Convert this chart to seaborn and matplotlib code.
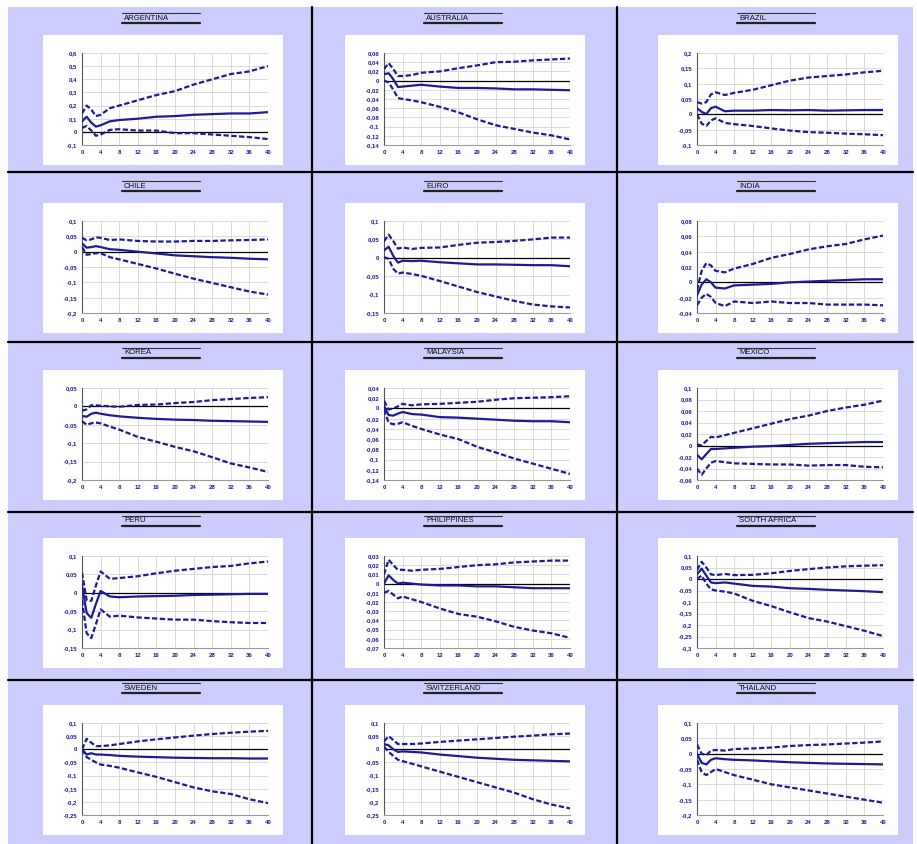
import numpy as np
import pandas as pd
import matplotlib
matplotlib.use('Agg')
import matplotlib.pyplot as plt
from matplotlib.patches import Rectangle
from matplotlib.lines import Line2D
from matplotlib.ticker import FuncFormatter, MultipleLocator
import seaborn as sns

sns.set_style('white')
plt.rcParams['font.family'] = ['Liberation Sans', 'DejaVu Sans']

steps = [0, 1, 2, 3, 4, 6, 8, 12, 16, 20, 24, 28, 32, 36, 40]

countries = ['ARGENTINA', 'AUSTRALIA', 'BRAZIL', 'CHILE', 'EURO', 'INDIA',
             'KOREA', 'MALAYSIA', 'MEXICO', 'PERU', 'PHILIPPINES', 'SOUTH AFRICA',
             'SWEDEN', 'SWITZERLAND', 'THAILAND']

# y axis range and tick step per panel
y_min = [-0.1, -0.14, -0.1, -0.2, -0.15, -0.04, -0.2, -0.14, -0.06, -0.15, -0.07, -0.3, -0.25, -0.25, -0.2]
y_max = [0.6, 0.06, 0.2, 0.1, 0.1, 0.08, 0.05, 0.04, 0.1, 0.1, 0.03, 0.1, 0.1, 0.1, 0.1]
y_step = [0.1, 0.02, 0.05, 0.05, 0.05, 0.02, 0.05, 0.02, 0.02, 0.05, 0.01, 0.05, 0.05, 0.05, 0.05]

argentina_mid = [0.08, 0.115, 0.07, 0.04, 0.05, 0.08, 0.09, 0.1, 0.115, 0.12, 0.13, 0.135, 0.14, 0.14, 0.15]
argentina_lo = [0.03, 0.045, 0.01, -0.03, -0.02, 0.015, 0.02, 0.01, 0.01, -0.01, -0.01, -0.02, -0.03, -0.04, -0.055]
argentina_hi = [0.14, 0.2, 0.17, 0.12, 0.13, 0.18, 0.2, 0.24, 0.28, 0.31, 0.36, 0.4, 0.44, 0.46, 0.5]

australia_mid = [0.014, 0.016, 0.003, -0.014, -0.013, -0.011, -0.009, -0.013, -0.016, -0.016, -0.017, -0.019, -0.019, -0.02, -0.021]
australia_lo = [0.0, -0.004, -0.02, -0.038, -0.04, -0.043, -0.047, -0.057, -0.069, -0.084, -0.097, -0.105, -0.113, -0.119, -0.128]
australia_hi = [0.025, 0.038, 0.025, 0.01, 0.01, 0.012, 0.017, 0.02, 0.027, 0.033, 0.04, 0.041, 0.044, 0.046, 0.048]

brazil_mid = [0.02, 0.008, 0.001, 0.02, 0.025, 0.01, 0.012, 0.012, 0.014, 0.013, 0.014, 0.012, 0.013, 0.014, 0.014]
brazil_lo = [0.0, -0.03, -0.038, -0.02, -0.013, -0.028, -0.032, -0.038, -0.046, -0.053, -0.058, -0.06, -0.063, -0.065, -0.068]
brazil_hi = [0.04, 0.035, 0.04, 0.065, 0.072, 0.063, 0.07, 0.08, 0.095, 0.11, 0.12, 0.125, 0.13, 0.137, 0.142]

chile_mid = [0.027, 0.013, 0.015, 0.018, 0.015, 0.008, 0.006, 0.0, -0.006, -0.012, -0.015, -0.018, -0.02, -0.023, -0.025]
chile_lo = [0.015, -0.01, -0.008, -0.005, -0.005, -0.018, -0.025, -0.04, -0.055, -0.072, -0.088, -0.102, -0.116, -0.13, -0.14]
chile_hi = [0.045, 0.037, 0.04, 0.047, 0.045, 0.038, 0.04, 0.035, 0.033, 0.033, 0.035, 0.035, 0.037, 0.038, 0.04]

euro_mid = [0.02, 0.03, 0.005, -0.013, -0.008, -0.009, -0.008, -0.012, -0.015, -0.018, -0.018, -0.019, -0.02, -0.02, -0.023]
euro_lo = [0.002, -0.003, -0.03, -0.043, -0.04, -0.044, -0.049, -0.063, -0.078, -0.093, -0.105, -0.117, -0.127, -0.132, -0.135]
euro_hi = [0.045, 0.063, 0.045, 0.025, 0.028, 0.024, 0.027, 0.028, 0.035, 0.041, 0.043, 0.046, 0.05, 0.055, 0.055]

india_mid = [-0.017, -0.003, 0.004, 0.0, -0.007, -0.008, -0.004, -0.003, -0.002, 0.0, 0.001, 0.002, 0.003, 0.004, 0.004]
india_lo = [-0.03, -0.02, -0.015, -0.019, -0.027, -0.031, -0.025, -0.027, -0.025, -0.027, -0.027, -0.029, -0.029, -0.029, -0.03]
india_hi = [-0.01, 0.015, 0.025, 0.022, 0.015, 0.013, 0.018, 0.024, 0.032, 0.037, 0.043, 0.047, 0.05, 0.056, 0.061]

korea_mid = [-0.026, -0.028, -0.02, -0.017, -0.02, -0.024, -0.027, -0.031, -0.034, -0.036, -0.037, -0.039, -0.04, -0.041, -0.042]
korea_lo = [-0.04, -0.05, -0.046, -0.044, -0.046, -0.055, -0.063, -0.083, -0.096, -0.11, -0.122, -0.138, -0.155, -0.166, -0.178]
korea_hi = [-0.012, -0.008, 0.003, 0.003, 0.002, 0.0, -0.001, 0.004, 0.005, 0.009, 0.012, 0.017, 0.02, 0.023, 0.025]

malaysia_mid = [0.005, -0.013, -0.014, -0.01, -0.007, -0.011, -0.012, -0.017, -0.018, -0.02, -0.022, -0.024, -0.025, -0.025, -0.027]
malaysia_lo = [-0.002, -0.028, -0.031, -0.03, -0.027, -0.034, -0.04, -0.051, -0.06, -0.075, -0.086, -0.098, -0.108, -0.118, -0.128]
malaysia_hi = [0.015, -0.002, 0.0, 0.004, 0.009, 0.006, 0.008, 0.009, 0.011, 0.013, 0.017, 0.02, 0.021, 0.022, 0.024]

mexico_mid = [-0.016, -0.024, -0.015, -0.006, -0.006, -0.005, -0.004, -0.002, -0.001, 0.001, 0.003, 0.004, 0.005, 0.006, 0.006]
mexico_lo = [-0.04, -0.051, -0.04, -0.03, -0.027, -0.029, -0.031, -0.032, -0.033, -0.033, -0.035, -0.034, -0.034, -0.037, -0.038]
mexico_hi = [0.002, 0.0, 0.008, 0.015, 0.014, 0.018, 0.022, 0.03, 0.038, 0.046, 0.052, 0.06, 0.066, 0.071, 0.078]

peru_mid = [0.02, -0.055, -0.068, -0.03, 0.005, -0.01, -0.012, -0.01, -0.009, -0.008, -0.006, -0.005, -0.004, -0.003, -0.003]
peru_lo = [-0.02, -0.11, -0.123, -0.085, -0.045, -0.065, -0.062, -0.067, -0.07, -0.073, -0.073, -0.077, -0.08, -0.082, -0.082]
peru_hi = [0.055, -0.02, -0.022, 0.02, 0.058, 0.038, 0.04, 0.045, 0.053, 0.06, 0.065, 0.07, 0.073, 0.08, 0.085]

philippines_mid = [0.0, 0.009, 0.004, 0.0, 0.001, 0.0, -0.001, -0.002, -0.002, -0.003, -0.003, -0.004, -0.005, -0.005, -0.005]
philippines_lo = [-0.01, -0.008, -0.012, -0.016, -0.014, -0.017, -0.02, -0.027, -0.033, -0.036, -0.041, -0.047, -0.051, -0.054, -0.059]
philippines_hi = [0.01, 0.026, 0.02, 0.015, 0.015, 0.014, 0.015, 0.016, 0.018, 0.02, 0.021, 0.023, 0.024, 0.025, 0.025]

safrica_mid = [0.02, 0.045, 0.015, -0.015, -0.018, -0.015, -0.02, -0.03, -0.033, -0.04, -0.043, -0.047, -0.05, -0.053, -0.057]
safrica_lo = [0.0, 0.015, -0.02, -0.045, -0.05, -0.055, -0.063, -0.095, -0.118, -0.145, -0.17, -0.185, -0.205, -0.225, -0.248]
safrica_hi = [0.04, 0.075, 0.05, 0.02, 0.017, 0.022, 0.017, 0.018, 0.025, 0.035, 0.043, 0.05, 0.055, 0.058, 0.06]

sweden_mid = [0.0, -0.02, -0.015, -0.02, -0.02, -0.022, -0.025, -0.028, -0.03, -0.032, -0.033, -0.034, -0.034, -0.035, -0.035]
sweden_lo = [0.0, -0.03, -0.04, -0.05, -0.058, -0.063, -0.07, -0.088, -0.105, -0.125, -0.145, -0.16, -0.17, -0.19, -0.205]
sweden_hi = [0.0, 0.04, 0.025, 0.012, 0.012, 0.015, 0.02, 0.03, 0.038, 0.045, 0.052, 0.058, 0.063, 0.067, 0.07]

swiss_mid = [0.02, 0.015, 0.0, -0.01, -0.008, -0.01, -0.012, -0.02, -0.026, -0.032, -0.036, -0.04, -0.042, -0.044, -0.046]
swiss_lo = [0.01, -0.01, -0.025, -0.04, -0.045, -0.055, -0.065, -0.085, -0.105, -0.125, -0.145, -0.165, -0.19, -0.21, -0.225]
swiss_hi = [0.03, 0.05, 0.035, 0.02, 0.02, 0.02, 0.022, 0.028, 0.033, 0.038, 0.043, 0.048, 0.052, 0.057, 0.06]

thailand_mid = [0.0, -0.03, -0.035, -0.02, -0.015, -0.018, -0.02, -0.022, -0.025, -0.028, -0.03, -0.032, -0.033, -0.034, -0.035]
thailand_lo = [-0.02, -0.06, -0.07, -0.06, -0.05, -0.06, -0.07, -0.085, -0.1, -0.11, -0.12, -0.13, -0.14, -0.15, -0.16]
thailand_hi = [0.03, 0.0, -0.005, 0.01, 0.012, 0.01, 0.015, 0.017, 0.02, 0.025, 0.028, 0.03, 0.033, 0.036, 0.04]

mids = [argentina_mid, australia_mid, brazil_mid, chile_mid, euro_mid, india_mid, korea_mid, malaysia_mid,
        mexico_mid, peru_mid, philippines_mid, safrica_mid, sweden_mid, swiss_mid, thailand_mid]
lows = [argentina_lo, australia_lo, brazil_lo, chile_lo, euro_lo, india_lo, korea_lo, malaysia_lo,
        mexico_lo, peru_lo, philippines_lo, safrica_lo, sweden_lo, swiss_lo, thailand_lo]
highs = [argentina_hi, australia_hi, brazil_hi, chile_hi, euro_hi, india_hi, korea_hi, malaysia_hi,
         mexico_hi, peru_hi, philippines_hi, safrica_hi, sweden_hi, swiss_hi, thailand_hi]

W, H = 917, 844
LAV = '#CCCCFF'
NAVY = '#1E1B96'

fig = plt.figure(figsize=(W / 100, H / 100), dpi=100)
fig.patch.set_facecolor('white')


def fig_box(x, y, w, h):
    return [x / W, 1 - (y + h) / H, w / W, h / H]


fig.patches.append(Rectangle((8 / W, 0), (W - 12) / W, (H - 7) / H, transform=fig.transFigure,
                             facecolor=LAV, edgecolor='none', zorder=0))

white_left = [43, 345, 658]
white_top = [35, 203, 370, 538, 705]

fmt = FuncFormatter(lambda v, p: ('%g' % round(v, 4)).replace('.', ','))

for i, name in enumerate(countries):
    r, c = divmod(i, 3)
    wl, wt = white_left[c], white_top[r]
    fig.patches.append(Rectangle((wl / W, 1 - (wt + 130) / H), 240 / W, 130 / H,
                                 transform=fig.transFigure, facecolor='white', edgecolor='none', zorder=1))
    # title with rule above and thicker rule below
    fig.lines.append(Line2D([(wl + 79) / W, (wl + 157) / W], [1 - (wt - 22) / H] * 2,
                            transform=fig.transFigure, color='#333333', lw=0.8))
    fig.lines.append(Line2D([(wl + 79) / W, (wl + 157) / W], [1 - (wt - 12) / H] * 2,
                            transform=fig.transFigure, color='#222222', lw=1.6))
    fig.text((wl + 81) / W, 1 - (wt - 17) / H, name, fontsize=5.6, va='center', ha='left', color='#111111')

    ax = fig.add_axes(fig_box(wl + 39, wt + 18, 186, 92))
    ax.set_zorder(5)
    ax.set_facecolor('white')
    df = pd.DataFrame({'h': steps, 'mid': mids[i], 'lo': lows[i], 'hi': highs[i]})
    ax.axhline(0, color='black', lw=0.9, zorder=2)
    sns.lineplot(data=df, x='h', y='mid', ax=ax, color=NAVY, lw=1.6, zorder=3)
    for col in ['lo', 'hi']:
        sns.lineplot(data=df, x='h', y=col, ax=ax, color=NAVY, lw=1.6, zorder=3,
                     linestyle=(0, (2.4, 1.1)))
    ax.set_xlim(0, 40)
    ax.set_ylim(y_min[i], y_max[i])
    ax.xaxis.set_major_locator(MultipleLocator(4))
    ax.yaxis.set_major_locator(MultipleLocator(y_step[i]))
    ax.yaxis.set_major_formatter(fmt)
    ax.grid(True, color='#DADADA', lw=0.7)
    ax.set_axisbelow(True)
    ax.set_xlabel('')
    ax.set_ylabel('')
    for s in ['top', 'right']:
        ax.spines[s].set_visible(False)
    ax.spines['left'].set_color('#555555')
    ax.spines['bottom'].set_color('#999999')
    ax.spines['left'].set_linewidth(0.8)
    ax.spines['bottom'].set_linewidth(0.8)
    ax.tick_params(axis='both', labelsize=4.3, colors='#555555', labelcolor=NAVY, length=2, width=0.6, pad=1.5)
    for lab in ax.get_xticklabels() + ax.get_yticklabels():
        lab.set_fontweight('bold')

# black separators between panels
for x in [312, 617]:
    fig.lines.append(Line2D([x / W, x / W], [0, 1 - 7 / H], transform=fig.transFigure, color='black', lw=1.6))
for y in [172, 342, 512, 680]:
    fig.lines.append(Line2D([8 / W, (W - 4) / W], [1 - y / H] * 2, transform=fig.transFigure, color='black', lw=1.6))

fig.savefig('out.png', dpi=100, facecolor=fig.get_facecolor())
